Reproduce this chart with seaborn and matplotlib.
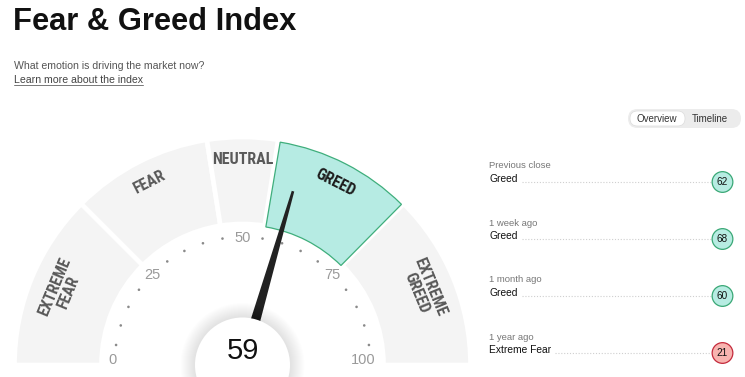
# Fear & Greed gauge, CNN style
import matplotlib
matplotlib.use("Agg")
import matplotlib.pyplot as plt
from matplotlib.patches import Wedge, Circle, Polygon, FancyBboxPatch
import numpy as np
import pandas as pd
import seaborn as sns

sns.set_style("white")
plt.rcParams['font.family'] = ['Liberation Sans', 'DejaVu Sans']

# data -------------------------------------------------------------------
band_names = ["EXTREME\nFEAR", "FEAR", "NEUTRAL", "GREED", "EXTREME\nGREED"]
band_lo = [0, 25, 45, 55, 75]
band_hi = [25, 45, 55, 75, 100]
current_value = 59
current_band = "GREED"
scale_labels = [0, 25, 50, 75, 100]
scale_dots = [v for v in range(5, 100, 5) if v % 25 != 0]

hist_when = ["Previous close", "1 week ago", "1 month ago", "1 year ago"]
hist_rating = ["Greed", "Greed", "Greed", "Extreme Fear"]
hist_value = [62, 68, 60, 21]

# layout (pixels, y measured from the top) --------------------------------
W, H = 745, 377
CX, CY = 242.5, 365
R_IN, R_OUT = 141, 228

fig = plt.figure(figsize=(W / 100, H / 100), dpi=100)
ax = fig.add_axes([0, 0, 1, 1])
ax.set_xlim(0, W)
ax.set_ylim(0, H)
ax.set_aspect("equal")
ax.axis("off")

def Y(y):
    return H - y

def theta(v):
    return 180 - 1.8 * v

def polar(v, r):
    t = np.radians(theta(v))
    return CX + r * np.cos(t), Y(CY) + r * np.sin(t)

# title block
ax.text(13, Y(22), "Fear & Greed Index", fontsize=22.2, fontweight="bold",
        color="#111", va="center", ha="left")
ax.text(14, Y(66), "What emotion is driving the market now?", fontsize=7.6,
        color="#555", va="center", ha="left")
lt = ax.text(14, Y(80), "Learn more about the index", fontsize=7.6,
             color="#444", va="center", ha="left")

# bands
for name, lo, hi in zip(band_names, band_lo, band_hi):
    if name == current_band:
        w = Wedge((CX, Y(CY)), R_OUT - 2, theta(75) + 0.3, theta(55) - 0.6,
                  width=R_OUT - 2 - (R_IN - 1), facecolor="#b6ebe3",
                  edgecolor="#3fae7c", lw=0.9, zorder=3)
        col = "#1d1d1d"
    else:
        w = Wedge((CX, Y(CY)), R_OUT, theta(hi), theta(lo), width=R_OUT - R_IN,
                  facecolor="#f4f4f4", edgecolor="white", lw=3.4, zorder=2)
        col = "#595959"
    ax.add_patch(w)
    mid = (lo + hi) / 2
    r_lab = 196 if "\n" in name else 205
    x, y = polar(mid, r_lab)
    ax.text(x, y, name, rotation=theta(mid) - 90, rotation_mode="anchor",
            ha="center", va="center", multialignment="center",
            fontsize=11.5, fontweight="bold", family="Roboto Condensed",
            color=col, linespacing=0.95, zorder=4)

# scale dots and numbers
dots = pd.DataFrame({"x": [polar(v, 128)[0] for v in scale_dots],
                     "y": [polar(v, 128)[1] for v in scale_dots]})
sns.scatterplot(data=dots, x="x", y="y", ax=ax, s=3.5, color="#8a8a8a",
                edgecolor="none", legend=False, zorder=3)
for v in scale_labels:
    r = 130 if v == 0 else 121 if v == 100 else 127
    x, y = polar(v, r)
    y = max(y, Y(CY) + 5)
    ax.text(x, y, str(v), fontsize=10.5, color="#9a9a9a", ha="center",
            va="center", zorder=3)

# needle
t = np.radians(theta(current_value))
u = np.array([np.cos(t), np.sin(t)])
n = np.array([-u[1], u[0]])
c = np.array([CX, Y(CY)])
needle = [c + 6 * n, c + 181 * u + 1.3 * n, c + 181 * u - 1.3 * n, c - 6 * n]
ax.add_patch(Polygon(needle, closed=True, facecolor="#222", edgecolor="none", zorder=5))

# centre disc with soft shadow
for i in range(14):
    ax.add_patch(Circle((CX, Y(CY)), 62 - i, facecolor="#000", alpha=0.006,
                        edgecolor="none", zorder=5.5))
ax.add_patch(Circle((CX, Y(CY)), 47.5, facecolor="white", edgecolor="none", zorder=6))
ax.text(CX, Y(351), str(current_value), fontsize=21, color="#111",
        ha="center", va="center", zorder=7)

# toggle
ax.add_patch(FancyBboxPatch((628, Y(128)), 113, 19, boxstyle="round,pad=0,rounding_size=9.5",
                            facecolor="#ececec", edgecolor="none"))
ax.add_patch(FancyBboxPatch((630, Y(126)), 55, 15, boxstyle="round,pad=0,rounding_size=7.5",
                            facecolor="white", edgecolor="#dcdcdc", lw=0.5))
ax.text(657, Y(118.5), "Overview", fontsize=7, color="#333", ha="center", va="center")
ax.text(710, Y(118.5), "Timeline", fontsize=7, color="#333", ha="center", va="center")

# history list
hist = pd.DataFrame({"when": hist_when, "rating": hist_rating, "value": hist_value})
hist["y"] = [Y(182 + 57 * i) for i in range(len(hist))]
hist["x"] = 722.5
hist["kind"] = np.where(hist["value"] >= 55, "greed", "fear")

fig.canvas.draw()
rend = fig.canvas.get_renderer()
inv = ax.transData.inverted()

for i, row in hist.iterrows():
    y0 = 166 + 57 * i
    ax.text(489, Y(y0), row["when"], fontsize=6.8, color="#777", ha="left", va="center")
    tx = ax.text(489, Y(y0 + 13), row["rating"], fontsize=7.4, color="#111",
                 ha="left", va="center")
    bb = tx.get_window_extent(rend)
    x_end = inv.transform((bb.x1, bb.y0))[0]
    ax.plot([x_end + 4, 711], [row["y"], row["y"]], color="#cfcfcf", lw=0.8,
            ls=(0, (1, 1.6)), solid_capstyle="butt")

sns.scatterplot(data=hist, x="x", y="y", hue="kind", ax=ax, s=222,
                palette={"greed": "#b7ece2", "fear": "#f8b4b0"},
                edgecolor=["#3aa876" if k == "greed" else "#c42a3c" for k in hist["kind"]],
                linewidth=0.9, legend=False, zorder=4)
for _, row in hist.iterrows():
    ax.text(row["x"], row["y"], str(row["value"]), fontsize=7.2, color="#111",
            ha="center", va="center", zorder=5)

# underline for the link
bb = lt.get_window_extent(rend)
(x0, y0), (x1, _) = inv.transform([(bb.x0, bb.y0), (bb.x1, bb.y0)])
ax.plot([x0, x1], [y0 + 0.5, y0 + 0.5], color="#777", lw=0.7)

ax.set_xlim(0, W)
ax.set_ylim(0, H)
fig.savefig("out.png", dpi=100)
